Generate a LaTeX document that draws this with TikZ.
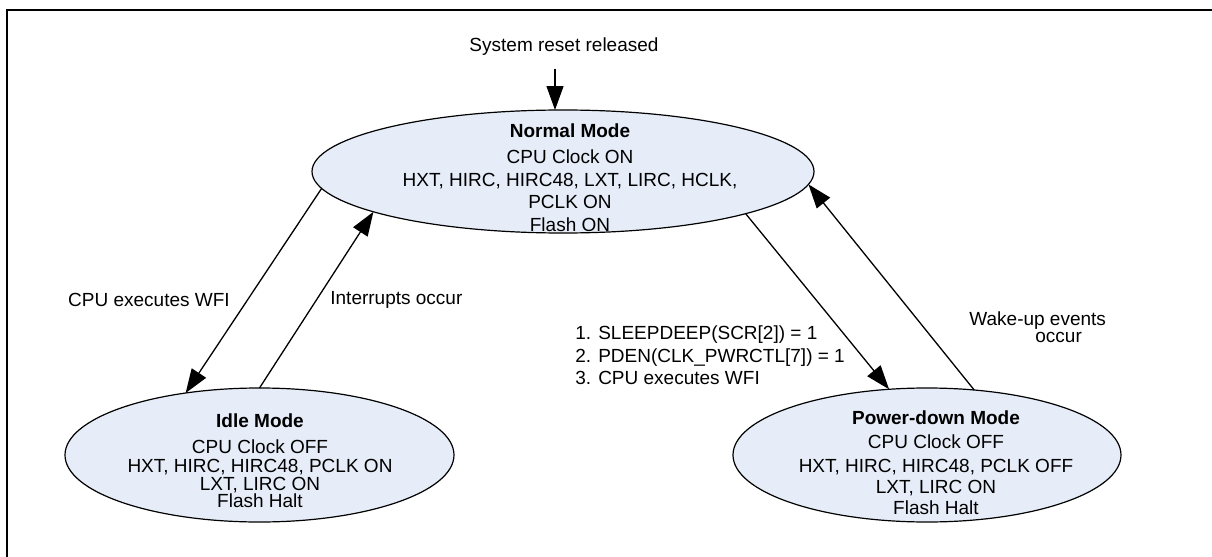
\documentclass[tikz,border=0pt]{standalone}
\usepackage{fontspec}
\setmainfont{Liberation Sans}
\usetikzlibrary{arrows.meta,shapes.geometric}
\definecolor{modefill}{RGB}{230,237,248}
\tikzset{
  mode/.style={draw, ellipse, fill=modefill, line width=0.6pt, inner sep=0pt, outer sep=0pt},
  modetext/.style={align=center, inner sep=0pt, anchor=north},
  lbl/.style={inner sep=0pt},
  arr/.style={-{Triangle[length=12pt,width=8.5pt]}, line width=0.65pt},
}
\begin{document}
\begin{tikzpicture}[x=0.5pt, y=-0.5pt, font=\fontsize{9.5}{11.25}\selectfont]
      \useasboundingbox (0,0) rectangle (1212,557);
      \draw[line width=1pt] (7,557) -- (7,10) -- (1212,10);
      % modes
      \node[mode, minimum width=251pt, minimum height=61.5pt] (normal) at (563,171.5) {};
      \node[mode, minimum width=194.5pt, minimum height=67pt] (idle) at (259.5,455) {};
      \node[mode, minimum width=194pt, minimum height=67pt] (pd) at (927,455) {};
      \node[modetext] (normaltxt) at (570,123.5) {\textbf{Normal Mode}\\[1.75pt]
        CPU Clock ON\\ HXT, HIRC, HIRC48, LXT, LIRC, HCLK,\\ PCLK ON\\ Flash ON};
      \node[modetext, font=\fontsize{9.5}{9}\selectfont] (idletxt) at (260,413.6) {\textbf{Idle Mode}\\[4pt]
        CPU Clock OFF\\[0.5pt] HXT, HIRC, HIRC48, PCLK ON\\ LXT, LIRC ON\\[-0.5pt] Flash Halt};
      \node[modetext, font=\fontsize{9.5}{10.25}\selectfont] (pdtxt) at (936,410.6) {\textbf{Power-down Mode}\\[1.75pt]
        CPU Clock OFF\\[1.75pt] HXT, HIRC, HIRC48, PCLK OFF\\ LXT, LIRC ON\\[0.25pt] Flash Halt};
      % labels
      \node[lbl] (reset) at (564,47) {System reset released};
      \node[lbl] (wfilbl) at (149,300) {CPU executes WFI};
      \node[lbl, anchor=west] (irqlbl) at (330,300) {Interrupts occur};
      \node[lbl, anchor=west, align=left] (pdlbl) at (575,355.5) {1. SLEEPDEEP(SCR[2]) = 1\\
        2. PDEN(CLK\_PWRCTL[7]) = 1\\ 3. CPU executes WFI};
      \node[lbl, anchor=west, align=left, font=\fontsize{9.5}{8.5}\selectfont] (wakelbl) at (969,327)
        {Wake-up events\\ \hspace*{33pt}occur};
      % transitions
      \coordinate (rs) at (555,69);
      \draw[arr] (rs) -- (rs |- normal.north);
      \draw[arr] (normal.184) -- (idle.140);
      \draw[arr] (idle.north) -- (normal.192);
      \draw[arr] (normal.347) -- (pd.120);
      \draw[arr] (pd.54) -- (normal.357);
    \end{tikzpicture}
\end{document}
